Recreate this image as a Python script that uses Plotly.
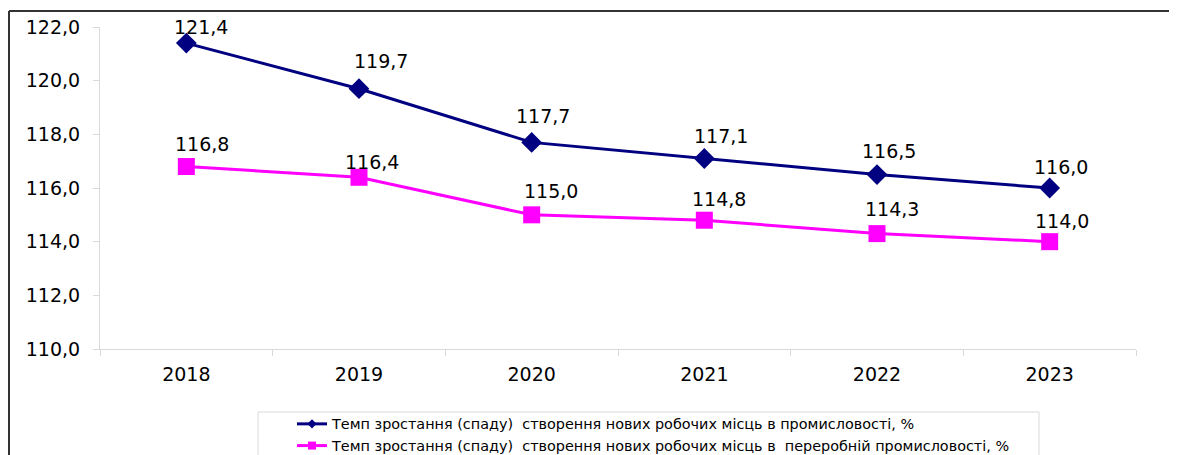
import plotly.graph_objects as go

years = ["2018", "2019", "2020", "2021", "2022", "2023"]
industry = [121.4, 119.7, 117.7, 117.1, 116.5, 116.0]
manufacturing = [116.8, 116.4, 115.0, 114.8, 114.3, 114.0]
name_industry = "Темп зростання (спаду)  створення нових робочих місць в промисловості, %"
name_manufacturing = "Темп зростання (спаду)  створення нових робочих місць в  переробній промисловості, %"

# label placement offsets (pixels) for value labels
shift_industry = [(15, 16), (22, 28), (11, 26), (17, 22), (12, 24), (11, 21)]
shift_manufacturing = [(16, 23), (13, 15), (19, 24), (15, 21), (15, 25), (12, 21)]

BLUE = "#000080"
PINK = "#FF00FF"
OFF = 8  # browser default body margin
W, H = 1177 - OFF, 455 - OFF
L, T = 100 - OFF, 27 - OFF
R = W - (1136 - OFF)
B = H - (349 - OFF)
pw, ph = W - L - R, H - T - B

fig = go.Figure()
fig.add_trace(go.Scatter(x=years, y=industry, name=name_industry, mode="lines+markers",
                         line=dict(color=BLUE, width=3), showlegend=False,
                         marker=dict(symbol="diamond", size=16, color=BLUE)))
fig.add_trace(go.Scatter(x=years, y=manufacturing, name=name_manufacturing, mode="lines+markers",
                         line=dict(color=PINK, width=3), showlegend=False,
                         marker=dict(symbol="square", size=17, color=PINK)))
# legend entries with small symbols (as in the original legend)
fig.add_trace(go.Scatter(x=[None], y=[None], name=name_industry, mode="lines+markers",
                         line=dict(color=BLUE, width=3),
                         marker=dict(symbol="diamond", size=7, color=BLUE)))
fig.add_trace(go.Scatter(x=[None], y=[None], name=name_manufacturing, mode="lines+markers",
                         line=dict(color=PINK, width=3),
                         marker=dict(symbol="square", size=8, color=PINK)))

def fmt(v):
    return f"{v:.1f}".replace(".", ",")

annotations = []
for vals, shifts in ((industry, shift_industry), (manufacturing, shift_manufacturing)):
    for i, (v, (dx, dy)) in enumerate(zip(vals, shifts)):
        annotations.append(dict(x=i, y=v, xref="x", yref="y", text=fmt(v), showarrow=False,
                                xshift=dx, yshift=dy, xanchor="center", yanchor="middle",
                                font=dict(family="DejaVu Sans", size=19, color="black")))

def px2x(px):
    return (px - OFF - L) / pw

def py2y(py):
    return (H - B - (py - OFF)) / ph

shapes = [
    # outer frame (top and left)
    dict(type="line", xref="paper", yref="paper", x0=px2x(9), x1=px2x(1185), y0=py2y(11), y1=py2y(11),
         line=dict(color="#333333", width=2)),
    dict(type="line", xref="paper", yref="paper", x0=px2x(9), x1=px2x(9), y0=py2y(11), y1=py2y(470),
         line=dict(color="#333333", width=2)),
    # legend box
    dict(type="rect", xref="paper", yref="paper", x0=px2x(258), x1=px2x(1039), y0=py2y(412), y1=py2y(470),
         line=dict(color="#d9d9d9", width=1), fillcolor="white", layer="below"),
]

fig.update_layout(
    width=W, height=H,
    margin=dict(l=L, r=R, t=T, b=B, autoexpand=False),
    paper_bgcolor="white", plot_bgcolor="white",
    font=dict(family="DejaVu Sans", color="black"),
    separators=",.",
    showlegend=True,
    legend=dict(xref="container", yref="container", x=(292 - OFF) / W, y=1 - (408 - OFF) / H,
                xanchor="left", yanchor="top",
                bgcolor="rgba(0,0,0,0)", borderwidth=0,
                font=dict(family="DejaVu Sans", size=14.4, color="black"),
                tracegroupgap=0),
    annotations=annotations,
    shapes=shapes,
    xaxis=dict(type="category", range=[-0.5, 5.5], showgrid=False, zeroline=False,
               showline=True, linecolor="#d9d9d9", linewidth=1, automargin=False,
               ticks="outside", tickson="boundaries", ticklen=6, tickcolor="#d9d9d9",
               tickfont=dict(family="DejaVu Sans", size=19, color="black"),
               ticklabelstandoff=8),
    yaxis=dict(range=[110, 122], dtick=2, tick0=110, tickformat=".1f", showgrid=False, zeroline=False,
               showline=True, linecolor="#d9d9d9", linewidth=1, automargin=False,
               ticks="outside", ticklen=6, tickcolor="#d9d9d9",
               tickfont=dict(family="DejaVu Sans", size=19, color="black"),
               ticklabelstandoff=9),
)

fig.write_html("out.html")
